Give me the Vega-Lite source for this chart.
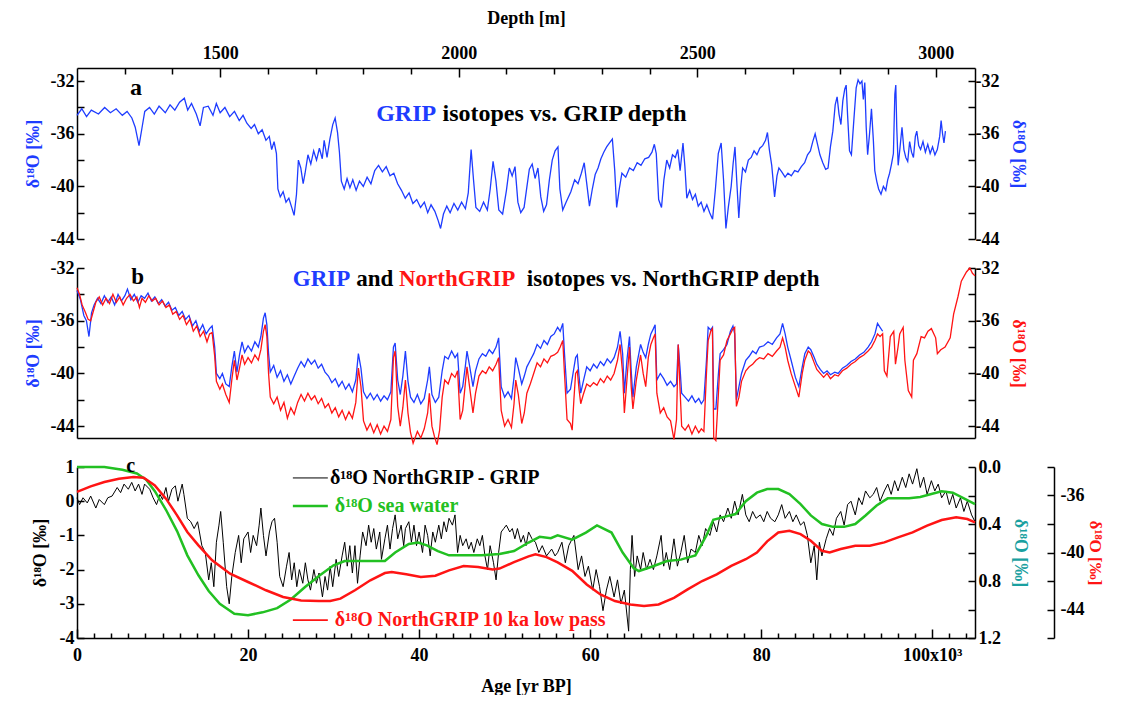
{
"$schema": "https://vega.github.io/schema/vega-lite/v6.json",
"padding": {"left": 24, "top": 9, "right": 0, "bottom": 0},
"background": "white",
"spacing": 29,
"bounds": "flush",
"config": {
 "font": "Liberation Serif",
 "view": {"stroke": null},
 "axis": {"labelFont": "Liberation Serif", "labelFontWeight": "bold", "labelFontSize": 18, "titleFont": "Liberation Serif", "titleFontWeight": "bold", "titleFontSize": 18, "labelColor": "black", "titleColor": "black", "domainColor": "black", "tickColor": "black", "grid": false, "domainWidth": 1.5, "tickWidth": 1.5, "labelOverlap": false, "labelFlush": false, "labelBound": false},
 "text": {"font": "Liberation Serif", "fontWeight": "bold"}
},
"datasets": {
 "a": [
  {"x":1200,"y":-34.6},{"x":1210,"y":-34.1},{"x":1220,"y":-34.7},{"x":1230,"y":-34.2},{"x":1245,"y":-34.5},{"x":1258,"y":-34.0},{"x":1270,"y":-34.4},{"x":1282,"y":-34.1},{"x":1295,"y":-34.6},{"x":1305,"y":-34.3},{"x":1315,"y":-34.8},{"x":1322,"y":-35.5},{"x":1330,"y":-36.9},{"x":1336,"y":-35.6},{"x":1342,"y":-34.3},{"x":1352,"y":-34.0},{"x":1362,"y":-34.5},{"x":1372,"y":-33.9},{"x":1385,"y":-34.4},{"x":1395,"y":-33.8},{"x":1405,"y":-34.2},{"x":1415,"y":-33.6},{"x":1425,"y":-33.3},{"x":1432,"y":-34.2},{"x":1440,"y":-33.7},{"x":1450,"y":-34.5},{"x":1458,"y":-35.4},{"x":1465,"y":-34.0},{"x":1475,"y":-33.9},{"x":1485,"y":-34.6},{"x":1492,"y":-33.7},{"x":1500,"y":-34.4},{"x":1510,"y":-34.0},{"x":1520,"y":-34.7},{"x":1530,"y":-34.3},{"x":1540,"y":-35.0},{"x":1548,"y":-34.6},{"x":1556,"y":-35.2},{"x":1565,"y":-35.6},{"x":1572,"y":-35.3},{"x":1580,"y":-36.0},{"x":1588,"y":-35.7},{"x":1596,"y":-36.5},{"x":1603,"y":-36.2},{"x":1608,"y":-37.2},{"x":1613,"y":-36.6},{"x":1618,"y":-37.5},{"x":1621,"y":-40.2},{"x":1626,"y":-40.8},{"x":1632,"y":-40.4},{"x":1638,"y":-41.2},{"x":1644,"y":-40.9},{"x":1650,"y":-41.6},{"x":1655,"y":-42.2},{"x":1660,"y":-40.6},{"x":1664,"y":-38.0},{"x":1669,"y":-38.6},{"x":1674,"y":-39.8},{"x":1678,"y":-39.0},{"x":1684,"y":-37.6},{"x":1690,"y":-38.3},{"x":1696,"y":-37.3},{"x":1702,"y":-38.0},{"x":1708,"y":-37.1},{"x":1714,"y":-37.9},{"x":1718,"y":-36.5},{"x":1724,"y":-37.8},{"x":1730,"y":-36.4},{"x":1736,"y":-35.3},{"x":1741,"y":-34.8},{"x":1746,"y":-35.9},{"x":1750,"y":-37.4},{"x":1754,"y":-39.6},{"x":1760,"y":-40.2},{"x":1766,"y":-39.4},{"x":1772,"y":-40.1},{"x":1778,"y":-39.5},{"x":1785,"y":-40.3},{"x":1792,"y":-39.6},{"x":1800,"y":-40.0},{"x":1808,"y":-39.3},{"x":1816,"y":-39.8},{"x":1824,"y":-38.8},{"x":1832,"y":-38.4},{"x":1840,"y":-38.9},{"x":1848,"y":-38.5},{"x":1856,"y":-39.2},{"x":1864,"y":-39.0},{"x":1872,"y":-39.8},{"x":1880,"y":-40.3},{"x":1888,"y":-40.9},{"x":1896,"y":-40.5},{"x":1904,"y":-41.3},{"x":1912,"y":-41.0},{"x":1920,"y":-41.6},{"x":1928,"y":-41.2},{"x":1935,"y":-42.0},{"x":1942,"y":-41.4},{"x":1950,"y":-41.9},{"x":1957,"y":-42.6},{"x":1962,"y":-43.2},{"x":1968,"y":-42.1},{"x":1975,"y":-41.5},{"x":1982,"y":-42.0},{"x":1990,"y":-41.3},{"x":1998,"y":-41.8},{"x":2006,"y":-41.2},{"x":2014,"y":-41.7},{"x":2020,"y":-40.5},{"x":2026,"y":-37.2},{"x":2031,"y":-39.5},{"x":2036,"y":-41.6},{"x":2044,"y":-41.9},{"x":2052,"y":-41.2},{"x":2060,"y":-41.8},{"x":2066,"y":-40.2},{"x":2072,"y":-38.1},{"x":2078,"y":-39.6},{"x":2084,"y":-41.8},{"x":2092,"y":-42.1},{"x":2100,"y":-40.3},{"x":2106,"y":-38.6},{"x":2112,"y":-39.2},{"x":2118,"y":-38.5},{"x":2124,"y":-41.2},{"x":2130,"y":-42.0},{"x":2137,"y":-41.6},{"x":2143,"y":-40.0},{"x":2148,"y":-38.7},{"x":2154,"y":-38.3},{"x":2160,"y":-39.4},{"x":2166,"y":-38.6},{"x":2172,"y":-40.8},{"x":2178,"y":-41.9},{"x":2184,"y":-41.4},{"x":2190,"y":-39.5},{"x":2196,"y":-38.0},{"x":2202,"y":-37.3},{"x":2208,"y":-37.0},{"x":2212,"y":-40.2},{"x":2218,"y":-41.8},{"x":2225,"y":-41.2},{"x":2235,"y":-40.4},{"x":2243,"y":-39.5},{"x":2250,"y":-39.8},{"x":2257,"y":-39.0},{"x":2263,"y":-38.2},{"x":2268,"y":-39.7},{"x":2274,"y":-41.5},{"x":2280,"y":-40.2},{"x":2286,"y":-39.1},{"x":2292,"y":-38.6},{"x":2298,"y":-37.9},{"x":2304,"y":-37.4},{"x":2310,"y":-37.0},{"x":2316,"y":-36.7},{"x":2322,"y":-36.4},{"x":2327,"y":-38.8},{"x":2331,"y":-41.6},{"x":2336,"y":-40.3},{"x":2342,"y":-39.0},{"x":2350,"y":-39.3},{"x":2358,"y":-38.6},{"x":2366,"y":-38.8},{"x":2374,"y":-38.2},{"x":2382,"y":-38.4},{"x":2390,"y":-37.9},{"x":2398,"y":-37.8},{"x":2405,"y":-37.4},{"x":2410,"y":-36.8},{"x":2414,"y":-37.5},{"x":2419,"y":-41.0},{"x":2425,"y":-41.6},{"x":2430,"y":-39.5},{"x":2436,"y":-38.0},{"x":2442,"y":-38.6},{"x":2448,"y":-37.6},{"x":2454,"y":-37.8},{"x":2459,"y":-37.2},{"x":2464,"y":-38.8},{"x":2470,"y":-36.7},{"x":2474,"y":-38.5},{"x":2478,"y":-40.9},{"x":2484,"y":-40.3},{"x":2490,"y":-41.0},{"x":2496,"y":-40.6},{"x":2502,"y":-41.5},{"x":2508,"y":-41.2},{"x":2514,"y":-41.9},{"x":2520,"y":-41.4},{"x":2526,"y":-42.0},{"x":2532,"y":-42.5},{"x":2538,"y":-40.2},{"x":2544,"y":-37.5},{"x":2550,"y":-36.7},{"x":2555,"y":-39.5},{"x":2560,"y":-43.2},{"x":2565,"y":-41.6},{"x":2571,"y":-40.0},{"x":2575,"y":-38.3},{"x":2579,"y":-37.0},{"x":2583,"y":-39.8},{"x":2587,"y":-42.4},{"x":2591,"y":-40.1},{"x":2595,"y":-38.6},{"x":2601,"y":-38.9},{"x":2607,"y":-38.0},{"x":2613,"y":-37.8},{"x":2619,"y":-37.3},{"x":2625,"y":-37.6},{"x":2631,"y":-37.1},{"x":2637,"y":-36.9},{"x":2643,"y":-36.5},{"x":2647,"y":-35.9},{"x":2651,"y":-37.2},{"x":2656,"y":-38.4},{"x":2662,"y":-40.8},{"x":2667,"y":-39.2},{"x":2671,"y":-38.6},{"x":2677,"y":-38.9},{"x":2684,"y":-39.3},{"x":2690,"y":-39.0},{"x":2697,"y":-39.2},{"x":2704,"y":-38.8},{"x":2711,"y":-38.9},{"x":2718,"y":-38.5},{"x":2725,"y":-38.2},{"x":2731,"y":-37.6},{"x":2737,"y":-37.3},{"x":2742,"y":-36.6},{"x":2747,"y":-36.0},{"x":2752,"y":-36.8},{"x":2757,"y":-37.6},{"x":2763,"y":-38.2},{"x":2769,"y":-38.7},{"x":2774,"y":-38.6},{"x":2779,"y":-37.0},{"x":2784,"y":-35.8},{"x":2789,"y":-33.8},{"x":2793,"y":-33.2},{"x":2797,"y":-34.5},{"x":2801,"y":-35.3},{"x":2805,"y":-33.5},{"x":2809,"y":-32.6},{"x":2812,"y":-32.3},{"x":2815,"y":-34.6},{"x":2819,"y":-37.3},{"x":2823,"y":-37.6},{"x":2828,"y":-35.0},{"x":2833,"y":-32.5},{"x":2837,"y":-31.9},{"x":2841,"y":-32.2},{"x":2845,"y":-32.0},{"x":2848,"y":-33.4},{"x":2851,"y":-32.1},{"x":2854,"y":-35.5},{"x":2857,"y":-37.6},{"x":2861,"y":-36.0},{"x":2865,"y":-34.1},{"x":2869,"y":-36.5},{"x":2872,"y":-38.8},{"x":2876,"y":-39.6},{"x":2880,"y":-40.2},{"x":2885,"y":-40.6},{"x":2890,"y":-40.0},{"x":2895,"y":-40.3},{"x":2899,"y":-39.5},{"x":2903,"y":-39.0},{"x":2907,"y":-38.3},{"x":2911,"y":-37.5},{"x":2914,"y":-33.0},{"x":2916,"y":-32.3},{"x":2918,"y":-35.5},{"x":2921,"y":-38.4},{"x":2925,"y":-37.0},{"x":2929,"y":-35.5},{"x":2933,"y":-37.2},{"x":2937,"y":-37.8},{"x":2941,"y":-38.1},{"x":2945,"y":-36.6},{"x":2949,"y":-37.4},{"x":2953,"y":-37.8},{"x":2957,"y":-36.2},{"x":2960,"y":-35.8},{"x":2964,"y":-36.9},{"x":2968,"y":-37.2},{"x":2973,"y":-36.6},{"x":2978,"y":-37.4},{"x":2983,"y":-36.8},{"x":2988,"y":-37.5},{"x":2993,"y":-37.0},{"x":2998,"y":-37.6},{"x":3003,"y":-37.2},{"x":3008,"y":-36.2},{"x":3011,"y":-35.0},{"x":3014,"y":-36.0},{"x":3017,"y":-36.7},{"x":3020,"y":-35.8}
 ],
 "bg": [
  {"x":0.0,"y":-33.7},{"x":0.4,"y":-34.4},{"x":0.8,"y":-35.6},{"x":1.1,"y":-36.0},{"x":1.4,"y":-37.2},{"x":1.7,"y":-35.4},{"x":2.0,"y":-34.8},{"x":2.4,"y":-34.3},{"x":2.8,"y":-34.7},{"x":3.2,"y":-34.1},{"x":3.6,"y":-34.6},{"x":4.0,"y":-34.2},{"x":4.4,"y":-34.8},{"x":4.8,"y":-34.0},{"x":5.2,"y":-34.5},{"x":5.6,"y":-34.1},{"x":5.9,"y":-33.6},{"x":6.3,"y":-34.4},{"x":6.7,"y":-34.0},{"x":7.1,"y":-34.6},{"x":7.5,"y":-34.1},{"x":7.9,"y":-34.3},{"x":8.3,"y":-33.9},{"x":8.7,"y":-34.5},{"x":9.1,"y":-34.2},{"x":9.5,"y":-34.7},{"x":9.9,"y":-34.4},{"x":10.3,"y":-34.9},{"x":10.7,"y":-34.6},{"x":11.1,"y":-35.2},{"x":11.5,"y":-35.0},{"x":11.9,"y":-35.6},{"x":12.3,"y":-35.3},{"x":12.7,"y":-35.9},{"x":13.1,"y":-35.6},{"x":13.5,"y":-36.4},{"x":13.9,"y":-36.0},{"x":14.3,"y":-36.8},{"x":14.7,"y":-36.3},{"x":15.1,"y":-37.0},{"x":15.5,"y":-36.6},{"x":15.8,"y":-36.4},{"x":16.1,"y":-38.0},{"x":16.3,"y":-40.0},{"x":16.7,"y":-40.4},{"x":17.0,"y":-40.0},{"x":17.4,"y":-40.8},{"x":17.8,"y":-41.0},{"x":18.1,"y":-39.5},{"x":18.4,"y":-38.3},{"x":18.7,"y":-39.9},{"x":19.0,"y":-38.6},{"x":19.3,"y":-37.6},{"x":19.6,"y":-38.4},{"x":20.0,"y":-37.9},{"x":20.4,"y":-38.3},{"x":20.8,"y":-37.6},{"x":21.2,"y":-38.0},{"x":21.5,"y":-37.2},{"x":21.8,"y":-35.8},{"x":22.0,"y":-35.4},{"x":22.2,"y":-36.3},{"x":22.4,"y":-38.5},{"x":22.6,"y":-39.9},{"x":23.0,"y":-39.4},{"x":23.4,"y":-40.3},{"x":23.8,"y":-39.8},{"x":24.2,"y":-40.6},{"x":24.6,"y":-40.1},{"x":25.0,"y":-40.8},{"x":25.4,"y":-40.2},{"x":25.8,"y":-39.6},{"x":26.2,"y":-39.1},{"x":26.6,"y":-39.5},{"x":27.0,"y":-38.9},{"x":27.4,"y":-39.3},{"x":27.8,"y":-39.0},{"x":28.2,"y":-39.6},{"x":28.6,"y":-39.3},{"x":29.0,"y":-39.9},{"x":29.4,"y":-40.2},{"x":29.8,"y":-40.7},{"x":30.2,"y":-40.4},{"x":30.6,"y":-41.0},{"x":31.0,"y":-40.6},{"x":31.4,"y":-41.2},{"x":31.8,"y":-40.8},{"x":32.2,"y":-41.4},{"x":32.6,"y":-40.5},{"x":32.9,"y":-38.5},{"x":33.2,"y":-39.6},{"x":33.5,"y":-41.4},{"x":33.9,"y":-41.9},{"x":34.3,"y":-41.5},{"x":34.7,"y":-42.0},{"x":35.1,"y":-41.6},{"x":35.5,"y":-42.1},{"x":35.9,"y":-41.7},{"x":36.3,"y":-42.0},{"x":36.7,"y":-41.4},{"x":37.0,"y":-38.0},{"x":37.2,"y":-37.7},{"x":37.5,"y":-40.5},{"x":37.8,"y":-41.6},{"x":38.1,"y":-40.2},{"x":38.4,"y":-38.3},{"x":38.7,"y":-40.6},{"x":39.0,"y":-41.8},{"x":39.4,"y":-42.2},{"x":39.8,"y":-41.6},{"x":40.2,"y":-42.3},{"x":40.6,"y":-41.9},{"x":41.0,"y":-40.5},{"x":41.2,"y":-39.5},{"x":41.5,"y":-41.6},{"x":41.9,"y":-42.2},{"x":42.3,"y":-41.8},{"x":42.7,"y":-39.8},{"x":43.0,"y":-38.7},{"x":43.4,"y":-38.9},{"x":43.8,"y":-38.3},{"x":44.2,"y":-38.8},{"x":44.5,"y":-38.5},{"x":44.8,"y":-41.5},{"x":45.1,"y":-41.0},{"x":45.4,"y":-39.5},{"x":45.6,"y":-38.3},{"x":45.9,"y":-39.4},{"x":46.3,"y":-41.0},{"x":46.6,"y":-39.8},{"x":47.0,"y":-38.9},{"x":47.4,"y":-38.5},{"x":47.8,"y":-38.7},{"x":48.2,"y":-38.2},{"x":48.6,"y":-38.5},{"x":49.0,"y":-38.0},{"x":49.3,"y":-37.3},{"x":49.6,"y":-41.0},{"x":50.0,"y":-41.8},{"x":50.4,"y":-41.4},{"x":50.8,"y":-41.9},{"x":51.1,"y":-40.3},{"x":51.3,"y":-38.8},{"x":51.6,"y":-39.6},{"x":52.0,"y":-40.8},{"x":52.3,"y":-40.2},{"x":52.6,"y":-39.5},{"x":53.0,"y":-39.0},{"x":53.4,"y":-38.5},{"x":53.8,"y":-37.8},{"x":54.2,"y":-38.1},{"x":54.6,"y":-37.5},{"x":55.0,"y":-37.8},{"x":55.4,"y":-37.2},{"x":55.8,"y":-37.0},{"x":56.2,"y":-36.5},{"x":56.5,"y":-36.8},{"x":56.8,"y":-36.2},{"x":57.0,"y":-38.5},{"x":57.3,"y":-41.5},{"x":57.7,"y":-41.2},{"x":58.0,"y":-40.0},{"x":58.3,"y":-38.8},{"x":58.5,"y":-38.6},{"x":58.7,"y":-40.2},{"x":58.9,"y":-41.5},{"x":59.2,"y":-40.6},{"x":59.6,"y":-39.5},{"x":60.0,"y":-39.8},{"x":60.4,"y":-39.3},{"x":60.8,"y":-39.6},{"x":61.2,"y":-39.1},{"x":61.6,"y":-39.4},{"x":62.0,"y":-38.9},{"x":62.4,"y":-39.2},{"x":62.8,"y":-38.8},{"x":63.2,"y":-38.0},{"x":63.5,"y":-36.8},{"x":63.8,"y":-38.5},{"x":64.0,"y":-41.5},{"x":64.3,"y":-39.0},{"x":64.6,"y":-37.2},{"x":64.8,"y":-39.8},{"x":65.0,"y":-41.8},{"x":65.4,"y":-39.5},{"x":65.9,"y":-37.8},{"x":66.2,"y":-38.4},{"x":66.5,"y":-38.8},{"x":66.8,"y":-37.8},{"x":67.1,"y":-37.0},{"x":67.4,"y":-36.6},{"x":67.6,"y":-36.3},{"x":67.8,"y":-40.5},{"x":68.2,"y":-40.0},{"x":68.6,"y":-40.4},{"x":69.0,"y":-40.9},{"x":69.4,"y":-40.6},{"x":69.8,"y":-41.0},{"x":70.1,"y":-40.8},{"x":70.3,"y":-37.8},{"x":70.5,"y":-39.5},{"x":70.7,"y":-41.5},{"x":71.1,"y":-41.8},{"x":71.5,"y":-42.1},{"x":71.9,"y":-41.7},{"x":72.3,"y":-42.2},{"x":72.7,"y":-41.9},{"x":73.0,"y":-42.3},{"x":73.3,"y":-42.0},{"x":73.6,"y":-39.0},{"x":73.8,"y":-36.5},{"x":74.1,"y":-36.7},{"x":74.3,"y":-36.5},{"x":74.45,"y":-42.7},{"x":74.7,"y":-42.7},{"x":75.0,"y":-40.0},{"x":75.2,"y":-38.5},{"x":75.6,"y":-38.2},{"x":76.0,"y":-37.8},{"x":76.4,"y":-36.8},{"x":76.7,"y":-36.4},{"x":76.9,"y":-37.0},{"x":77.1,"y":-42.0},{"x":77.4,"y":-41.0},{"x":77.7,"y":-40.0},{"x":78.2,"y":-39.0},{"x":78.6,"y":-38.7},{"x":79.0,"y":-38.3},{"x":79.4,"y":-38.5},{"x":79.8,"y":-38.0},{"x":80.3,"y":-37.9},{"x":80.8,"y":-37.6},{"x":81.3,"y":-37.8},{"x":81.8,"y":-37.3},{"x":82.2,"y":-37.0},{"x":82.5,"y":-36.2},{"x":82.8,"y":-37.0},{"x":83.1,"y":-38.0},{"x":83.5,"y":-39.0},{"x":84.0,"y":-40.3},{"x":84.4,"y":-41.0},{"x":84.8,"y":-39.5},{"x":85.1,"y":-38.5},{"x":85.5,"y":-38.0},{"x":85.8,"y":-38.2},{"x":86.2,"y":-38.8},{"x":86.5,"y":-39.3},{"x":86.9,"y":-39.7},{"x":87.3,"y":-40.0},{"x":87.7,"y":-39.8},{"x":88.1,"y":-40.1},{"x":88.6,"y":-39.9},{"x":89.0,"y":-40.0},{"x":89.5,"y":-39.6},{"x":90.0,"y":-39.4},{"x":90.5,"y":-39.1},{"x":91.0,"y":-38.9},{"x":91.5,"y":-38.6},{"x":92.0,"y":-38.4},{"x":92.5,"y":-38.0},{"x":92.9,"y":-37.6},{"x":93.3,"y":-37.0},{"x":93.6,"y":-36.2},{"x":93.9,"y":-36.5},{"x":94.2,"y":-36.8}
 ],
 "bn": [
  {"x":0.0,"y":-33.5},{"x":0.3,"y":-34.0},{"x":0.6,"y":-34.8},{"x":1.0,"y":-35.4},{"x":1.3,"y":-35.9},{"x":1.6,"y":-36.0},{"x":1.9,"y":-35.3},{"x":2.2,"y":-34.6},{"x":2.6,"y":-34.2},{"x":3.0,"y":-34.8},{"x":3.4,"y":-34.3},{"x":3.8,"y":-34.7},{"x":4.2,"y":-34.0},{"x":4.6,"y":-34.6},{"x":5.0,"y":-34.2},{"x":5.4,"y":-34.8},{"x":5.8,"y":-34.3},{"x":6.2,"y":-34.0},{"x":6.6,"y":-34.5},{"x":7.0,"y":-34.2},{"x":7.3,"y":-35.0},{"x":7.6,"y":-34.3},{"x":8.0,"y":-34.6},{"x":8.4,"y":-34.1},{"x":8.8,"y":-34.5},{"x":9.2,"y":-34.3},{"x":9.6,"y":-34.8},{"x":10.0,"y":-34.5},{"x":10.4,"y":-35.0},{"x":10.8,"y":-34.8},{"x":11.2,"y":-35.5},{"x":11.6,"y":-35.3},{"x":12.0,"y":-35.9},{"x":12.4,"y":-35.6},{"x":12.8,"y":-36.3},{"x":13.2,"y":-35.9},{"x":13.6,"y":-36.8},{"x":14.0,"y":-36.4},{"x":14.4,"y":-37.2},{"x":14.8,"y":-36.8},{"x":15.2,"y":-37.6},{"x":15.5,"y":-37.0},{"x":15.8,"y":-36.9},{"x":16.1,"y":-38.7},{"x":16.3,"y":-40.6},{"x":16.7,"y":-41.2},{"x":17.0,"y":-40.8},{"x":17.4,"y":-41.6},{"x":17.8,"y":-42.2},{"x":18.1,"y":-40.5},{"x":18.4,"y":-39.0},{"x":18.7,"y":-40.5},{"x":19.0,"y":-39.6},{"x":19.3,"y":-38.6},{"x":19.6,"y":-39.3},{"x":20.0,"y":-38.8},{"x":20.4,"y":-39.2},{"x":20.8,"y":-38.6},{"x":21.2,"y":-39.0},{"x":21.5,"y":-38.2},{"x":21.8,"y":-36.8},{"x":22.0,"y":-36.3},{"x":22.2,"y":-37.2},{"x":22.4,"y":-40.0},{"x":22.6,"y":-41.8},{"x":23.0,"y":-42.3},{"x":23.4,"y":-41.8},{"x":23.8,"y":-42.8},{"x":24.2,"y":-42.2},{"x":24.6,"y":-43.4},{"x":25.0,"y":-42.6},{"x":25.4,"y":-43.1},{"x":25.8,"y":-42.2},{"x":26.2,"y":-41.6},{"x":26.6,"y":-42.1},{"x":27.0,"y":-41.5},{"x":27.4,"y":-42.0},{"x":27.8,"y":-41.7},{"x":28.2,"y":-42.3},{"x":28.6,"y":-41.9},{"x":29.0,"y":-42.6},{"x":29.4,"y":-42.3},{"x":29.8,"y":-43.0},{"x":30.2,"y":-42.6},{"x":30.6,"y":-43.3},{"x":31.0,"y":-42.8},{"x":31.4,"y":-43.5},{"x":31.8,"y":-42.9},{"x":32.2,"y":-43.4},{"x":32.6,"y":-42.2},{"x":32.9,"y":-39.6},{"x":33.2,"y":-41.0},{"x":33.5,"y":-43.6},{"x":33.9,"y":-44.3},{"x":34.3,"y":-43.8},{"x":34.7,"y":-44.5},{"x":35.1,"y":-43.9},{"x":35.5,"y":-44.6},{"x":35.9,"y":-44.0},{"x":36.3,"y":-44.4},{"x":36.7,"y":-43.5},{"x":37.0,"y":-38.8},{"x":37.2,"y":-38.3},{"x":37.5,"y":-42.5},{"x":37.8,"y":-44.0},{"x":38.1,"y":-42.6},{"x":38.4,"y":-40.5},{"x":38.7,"y":-43.0},{"x":39.0,"y":-44.5},{"x":39.3,"y":-45.3},{"x":39.8,"y":-44.4},{"x":40.2,"y":-44.9},{"x":40.6,"y":-44.2},{"x":41.0,"y":-43.0},{"x":41.2,"y":-41.5},{"x":41.5,"y":-44.0},{"x":41.8,"y":-44.8},{"x":42.1,"y":-45.4},{"x":42.4,"y":-44.3},{"x":42.7,"y":-41.8},{"x":43.0,"y":-40.5},{"x":43.4,"y":-40.8},{"x":43.8,"y":-40.0},{"x":44.2,"y":-40.3},{"x":44.5,"y":-39.8},{"x":44.8,"y":-43.5},{"x":45.1,"y":-42.8},{"x":45.4,"y":-40.8},{"x":45.6,"y":-39.5},{"x":45.9,"y":-41.0},{"x":46.3,"y":-43.0},{"x":46.6,"y":-41.5},{"x":47.0,"y":-40.2},{"x":47.4,"y":-39.8},{"x":47.8,"y":-40.0},{"x":48.2,"y":-39.5},{"x":48.6,"y":-39.8},{"x":49.0,"y":-39.3},{"x":49.3,"y":-38.8},{"x":49.6,"y":-42.8},{"x":50.0,"y":-44.0},{"x":50.4,"y":-43.5},{"x":50.8,"y":-44.1},{"x":51.1,"y":-42.3},{"x":51.3,"y":-40.5},{"x":51.6,"y":-41.6},{"x":52.0,"y":-43.8},{"x":52.3,"y":-43.0},{"x":52.6,"y":-41.5},{"x":53.0,"y":-40.8},{"x":53.4,"y":-40.0},{"x":53.8,"y":-39.2},{"x":54.2,"y":-39.5},{"x":54.6,"y":-38.9},{"x":55.0,"y":-39.2},{"x":55.4,"y":-38.7},{"x":55.8,"y":-38.6},{"x":56.2,"y":-38.4},{"x":56.5,"y":-38.0},{"x":56.8,"y":-37.5},{"x":57.0,"y":-40.0},{"x":57.3,"y":-43.5},{"x":57.7,"y":-43.8},{"x":57.9,"y":-44.3},{"x":58.1,"y":-42.0},{"x":58.3,"y":-40.0},{"x":58.5,"y":-39.8},{"x":58.7,"y":-41.2},{"x":58.9,"y":-42.3},{"x":59.2,"y":-41.6},{"x":59.6,"y":-40.8},{"x":60.0,"y":-41.0},{"x":60.4,"y":-40.7},{"x":60.8,"y":-40.9},{"x":61.2,"y":-40.4},{"x":61.6,"y":-40.7},{"x":62.0,"y":-40.2},{"x":62.4,"y":-40.5},{"x":62.8,"y":-40.0},{"x":63.2,"y":-39.0},{"x":63.5,"y":-37.8},{"x":63.8,"y":-40.0},{"x":64.0,"y":-43.0},{"x":64.3,"y":-40.5},{"x":64.6,"y":-38.0},{"x":64.8,"y":-41.0},{"x":65.0,"y":-42.7},{"x":65.4,"y":-40.5},{"x":65.9,"y":-38.6},{"x":66.2,"y":-40.0},{"x":66.5,"y":-41.0},{"x":66.8,"y":-38.8},{"x":67.1,"y":-37.8},{"x":67.4,"y":-37.3},{"x":67.6,"y":-37.0},{"x":67.8,"y":-41.5},{"x":68.2,"y":-43.0},{"x":68.6,"y":-42.6},{"x":69.0,"y":-43.3},{"x":69.4,"y":-43.6},{"x":69.8,"y":-45.0},{"x":70.1,"y":-43.5},{"x":70.3,"y":-37.8},{"x":70.5,"y":-41.0},{"x":70.7,"y":-44.0},{"x":71.1,"y":-44.3},{"x":71.5,"y":-43.9},{"x":71.9,"y":-44.6},{"x":72.3,"y":-44.0},{"x":72.7,"y":-44.5},{"x":73.0,"y":-44.2},{"x":73.3,"y":-44.4},{"x":73.6,"y":-40.0},{"x":73.8,"y":-37.5},{"x":74.1,"y":-36.8},{"x":74.3,"y":-36.6},{"x":74.45,"y":-44.9},{"x":74.7,"y":-45.1},{"x":75.0,"y":-41.5},{"x":75.2,"y":-39.0},{"x":75.6,"y":-38.6},{"x":76.0,"y":-37.5},{"x":76.4,"y":-37.0},{"x":76.7,"y":-36.6},{"x":76.9,"y":-36.5},{"x":77.1,"y":-42.5},{"x":77.4,"y":-41.8},{"x":77.7,"y":-40.6},{"x":78.2,"y":-39.8},{"x":78.6,"y":-39.5},{"x":79.0,"y":-39.3},{"x":79.4,"y":-39.0},{"x":79.8,"y":-38.8},{"x":80.3,"y":-38.9},{"x":80.8,"y":-38.5},{"x":81.3,"y":-38.7},{"x":81.8,"y":-38.3},{"x":82.2,"y":-38.0},{"x":82.5,"y":-37.3},{"x":82.8,"y":-38.0},{"x":83.1,"y":-39.0},{"x":83.5,"y":-40.0},{"x":84.0,"y":-41.0},{"x":84.4,"y":-41.8},{"x":84.8,"y":-40.0},{"x":85.1,"y":-39.0},{"x":85.5,"y":-38.3},{"x":85.8,"y":-38.5},{"x":86.2,"y":-39.2},{"x":86.5,"y":-39.7},{"x":86.9,"y":-40.0},{"x":87.3,"y":-40.3},{"x":87.7,"y":-40.0},{"x":88.1,"y":-40.4},{"x":88.6,"y":-40.1},{"x":89.0,"y":-40.2},{"x":89.5,"y":-39.8},{"x":90.0,"y":-39.6},{"x":90.5,"y":-39.3},{"x":91.0,"y":-39.1},{"x":91.5,"y":-38.8},{"x":92.0,"y":-38.6},{"x":92.5,"y":-38.3},{"x":92.9,"y":-38.0},{"x":93.3,"y":-37.5},{"x":93.6,"y":-37.0},{"x":93.9,"y":-37.2},{"x":94.2,"y":-37.0},{"x":94.4,"y":-39.8},{"x":94.7,"y":-40.2},{"x":95.1,"y":-37.2},{"x":95.5,"y":-36.8},{"x":95.7,"y":-39.3},{"x":96.0,"y":-38.0},{"x":96.2,"y":-37.0},{"x":96.6,"y":-36.5},{"x":96.8,"y":-39.0},{"x":97.2,"y":-41.3},{"x":97.6,"y":-41.8},{"x":97.8,"y":-39.0},{"x":98.2,"y":-38.5},{"x":98.7,"y":-37.2},{"x":99.1,"y":-37.3},{"x":99.5,"y":-36.8},{"x":99.9,"y":-36.6},{"x":100.4,"y":-37.3},{"x":100.6,"y":-38.5},{"x":101.0,"y":-38.2},{"x":101.5,"y":-38.0},{"x":102.1,"y":-37.3},{"x":102.5,"y":-35.5},{"x":103.0,"y":-34.2},{"x":103.4,"y":-33.0},{"x":104.0,"y":-32.3},{"x":104.4,"y":-32.0},{"x":104.7,"y":-32.4},{"x":105.0,"y":-32.6}
 ],
 "cd": [
  {"x":0.0,"y":0.1},{"x":0.3,"y":-0.1},{"x":0.7,"y":0.1},{"x":1.2,"y":-0.05},{"x":1.6,"y":0.15},{"x":2.2,"y":-0.2},{"x":2.6,"y":0.05},{"x":3.2,"y":-0.1},{"x":3.6,"y":0.1},{"x":4.1,"y":0.15},{"x":4.7,"y":0.4},{"x":5.1,"y":0.25},{"x":5.5,"y":0.5},{"x":6.0,"y":0.35},{"x":6.4,"y":0.55},{"x":6.8,"y":0.3},{"x":7.2,"y":0.5},{"x":7.6,"y":0.2},{"x":7.9,"y":0.5},{"x":8.5,"y":0.35},{"x":8.9,"y":0.1},{"x":9.3,"y":-0.1},{"x":9.7,"y":0.2},{"x":10.0,"y":0.05},{"x":10.4,"y":0.4},{"x":10.7,"y":0.0},{"x":11.1,"y":0.35},{"x":11.5,"y":0.45},{"x":11.8,"y":0.0},{"x":12.3,"y":0.5},{"x":12.5,"y":0.2},{"x":12.9,"y":-0.5},{"x":13.3,"y":-0.6},{"x":13.7,"y":-0.8},{"x":14.1,"y":-0.6},{"x":14.6,"y":-1.3},{"x":15.0,"y":-1.5},{"x":15.4,"y":-2.3},{"x":15.7,"y":-1.8},{"x":16.0,"y":-2.5},{"x":16.3,"y":-1.2},{"x":16.6,"y":-0.7},{"x":16.8,"y":-0.3},{"x":17.1,"y":-1.2},{"x":17.5,"y":-2.5},{"x":17.8,"y":-3.0},{"x":18.1,"y":-2.2},{"x":18.5,"y":-1.5},{"x":18.9,"y":-1.0},{"x":19.2,"y":-1.8},{"x":19.5,"y":-1.1},{"x":20.0,"y":-0.9},{"x":20.3,"y":-1.5},{"x":20.6,"y":-1.0},{"x":21.0,"y":-1.3},{"x":21.3,"y":-0.7},{"x":21.5,"y":-0.2},{"x":21.8,"y":-1.0},{"x":22.1,"y":-1.6},{"x":22.5,"y":-0.9},{"x":22.8,"y":-0.6},{"x":23.1,"y":-0.5},{"x":23.4,"y":-1.2},{"x":23.7,"y":-2.2},{"x":24.1,"y":-2.5},{"x":24.5,"y":-1.9},{"x":24.8,"y":-1.5},{"x":25.1,"y":-2.3},{"x":25.4,"y":-1.8},{"x":25.7,"y":-2.5},{"x":26.0,"y":-2.0},{"x":26.4,"y":-2.4},{"x":26.7,"y":-1.8},{"x":27.0,"y":-2.3},{"x":27.3,"y":-2.6},{"x":27.7,"y":-2.0},{"x":28.0,"y":-2.4},{"x":28.3,"y":-2.1},{"x":28.7,"y":-2.8},{"x":29.0,"y":-2.2},{"x":29.3,"y":-2.6},{"x":29.6,"y":-1.9},{"x":29.9,"y":-2.5},{"x":30.3,"y":-1.7},{"x":30.6,"y":-2.2},{"x":31.0,"y":-1.6},{"x":31.3,"y":-1.2},{"x":31.6,"y":-1.9},{"x":31.9,"y":-1.3},{"x":32.2,"y":-2.1},{"x":32.5,"y":-1.3},{"x":32.8,"y":-2.4},{"x":33.1,"y":-1.6},{"x":33.4,"y":-0.9},{"x":33.8,"y":-1.3},{"x":34.1,"y":-0.7},{"x":34.4,"y":-1.2},{"x":34.7,"y":-0.8},{"x":35.0,"y":-1.4},{"x":35.4,"y":-0.9},{"x":35.6,"y":-1.7},{"x":36.0,"y":-1.1},{"x":36.3,"y":-0.7},{"x":36.6,"y":-1.4},{"x":36.9,"y":-0.8},{"x":37.2,"y":-0.4},{"x":37.5,"y":-1.1},{"x":37.9,"y":-0.7},{"x":38.2,"y":-1.3},{"x":38.4,"y":-0.8},{"x":38.8,"y":-0.6},{"x":39.1,"y":-1.2},{"x":39.4,"y":-0.7},{"x":39.7,"y":-1.3},{"x":40.0,"y":-0.9},{"x":40.4,"y":-1.5},{"x":40.7,"y":-0.7},{"x":41.0,"y":-1.0},{"x":41.3,"y":-1.6},{"x":41.6,"y":-0.9},{"x":41.9,"y":-1.2},{"x":42.3,"y":-0.7},{"x":42.6,"y":-1.1},{"x":42.9,"y":-0.6},{"x":43.2,"y":-0.9},{"x":43.5,"y":-0.5},{"x":43.9,"y":-0.7},{"x":44.2,"y":-0.4},{"x":44.5,"y":-1.5},{"x":44.8,"y":-1.0},{"x":45.1,"y":-1.3},{"x":45.5,"y":-1.1},{"x":45.8,"y":-1.4},{"x":46.1,"y":-1.2},{"x":46.4,"y":-1.5},{"x":46.8,"y":-1.1},{"x":47.1,"y":-1.3},{"x":47.4,"y":-1.0},{"x":47.7,"y":-1.6},{"x":48.0,"y":-2.0},{"x":48.3,"y":-1.3},{"x":48.7,"y":-1.8},{"x":49.0,"y":-2.3},{"x":49.3,"y":-1.5},{"x":49.6,"y":-0.9},{"x":49.9,"y":-0.8},{"x":50.2,"y":-0.7},{"x":50.6,"y":-0.9},{"x":50.9,"y":-0.8},{"x":51.2,"y":-1.1},{"x":51.5,"y":-0.8},{"x":51.9,"y":-1.2},{"x":52.2,"y":-1.0},{"x":52.5,"y":-1.3},{"x":52.8,"y":-0.9},{"x":53.2,"y":-1.1},{"x":53.6,"y":-1.2},{"x":54.0,"y":-1.5},{"x":54.4,"y":-1.3},{"x":54.9,"y":-1.6},{"x":55.5,"y":-1.4},{"x":55.9,"y":-1.6},{"x":56.2,"y":-1.5},{"x":56.7,"y":-1.2},{"x":57.1,"y":-1.8},{"x":57.5,"y":-1.3},{"x":58.1,"y":-1.0},{"x":58.6,"y":-2.0},{"x":59.0,"y":-1.6},{"x":59.4,"y":-2.2},{"x":59.8,"y":-1.9},{"x":60.3,"y":-2.6},{"x":60.7,"y":-2.0},{"x":61.1,"y":-2.5},{"x":61.5,"y":-3.2},{"x":61.9,"y":-2.6},{"x":62.3,"y":-2.2},{"x":62.8,"y":-2.8},{"x":63.2,"y":-2.3},{"x":63.6,"y":-3.0},{"x":64.0,"y":-2.6},{"x":64.5,"y":-3.8},{"x":64.7,"y":-2.0},{"x":64.9,"y":-1.0},{"x":65.2,"y":-2.2},{"x":65.5,"y":-1.6},{"x":65.9,"y":-2.0},{"x":66.2,"y":-1.5},{"x":66.6,"y":-2.0},{"x":67.0,"y":-1.7},{"x":67.4,"y":-2.0},{"x":67.8,"y":-1.6},{"x":68.3,"y":-1.0},{"x":68.6,"y":-1.9},{"x":68.9,"y":-1.5},{"x":69.3,"y":-2.0},{"x":69.8,"y":-1.1},{"x":70.2,"y":-1.9},{"x":70.6,"y":-1.5},{"x":71.0,"y":-1.0},{"x":71.4,"y":-1.8},{"x":71.8,"y":-1.4},{"x":72.3,"y":-1.5},{"x":72.7,"y":-1.0},{"x":73.1,"y":-1.3},{"x":73.5,"y":-0.8},{"x":74.0,"y":-1.0},{"x":74.4,"y":-0.6},{"x":74.8,"y":-0.9},{"x":75.2,"y":-0.4},{"x":75.6,"y":-0.6},{"x":76.1,"y":-0.2},{"x":76.5,"y":-0.5},{"x":76.9,"y":0.0},{"x":77.3,"y":-0.4},{"x":77.8,"y":0.2},{"x":78.2,"y":-0.4},{"x":78.6,"y":-0.6},{"x":79.0,"y":-0.3},{"x":79.4,"y":-0.5},{"x":79.9,"y":-0.4},{"x":80.3,"y":-0.6},{"x":80.7,"y":-0.3},{"x":81.1,"y":-0.5},{"x":81.6,"y":-0.6},{"x":82.0,"y":-0.4},{"x":82.4,"y":-0.1},{"x":82.8,"y":-0.5},{"x":83.3,"y":-0.3},{"x":83.7,"y":-0.6},{"x":84.1,"y":-0.4},{"x":84.6,"y":-0.7},{"x":85.0,"y":-0.6},{"x":85.4,"y":-1.0},{"x":85.8,"y":-1.8},{"x":86.2,"y":-1.3},{"x":86.5,"y":-2.3},{"x":86.8,"y":-1.2},{"x":87.1,"y":-1.6},{"x":87.6,"y":-1.1},{"x":88.0,"y":-0.8},{"x":88.4,"y":-1.0},{"x":88.8,"y":-0.5},{"x":89.3,"y":-0.3},{"x":89.7,"y":-0.7},{"x":90.1,"y":-0.1},{"x":90.5,"y":0.0},{"x":91.0,"y":-0.4},{"x":91.4,"y":0.1},{"x":91.8,"y":-0.1},{"x":92.2,"y":0.3},{"x":92.7,"y":0.1},{"x":93.1,"y":0.2},{"x":93.5,"y":0.4},{"x":93.9,"y":0.0},{"x":94.4,"y":0.3},{"x":94.8,"y":0.5},{"x":95.2,"y":0.2},{"x":95.6,"y":0.6},{"x":96.0,"y":0.3},{"x":96.5,"y":0.7},{"x":96.9,"y":0.4},{"x":97.3,"y":0.8},{"x":97.7,"y":0.5},{"x":98.2,"y":0.95},{"x":98.6,"y":0.4},{"x":99.0,"y":0.7},{"x":99.4,"y":0.2},{"x":99.9,"y":0.6},{"x":100.3,"y":0.3},{"x":100.7,"y":0.5},{"x":101.1,"y":0.1},{"x":101.6,"y":0.3},{"x":102.0,"y":-0.1},{"x":102.4,"y":0.2},{"x":102.8,"y":-0.2},{"x":103.3,"y":0.1},{"x":103.7,"y":-0.3},{"x":104.1,"y":0.0},{"x":104.6,"y":-0.4},{"x":105.0,"y":-0.6}
 ],
 "cs": [
  {"x":0,"y":0.0},{"x":3.2,"y":0.0},{"x":5.3,"y":0.02},{"x":7.0,"y":0.045},{"x":8.1,"y":0.09},{"x":9.1,"y":0.17},{"x":10.4,"y":0.30},{"x":11.7,"y":0.45},{"x":12.9,"y":0.62},{"x":14.2,"y":0.76},{"x":15.4,"y":0.87},{"x":16.7,"y":0.96},{"x":18.4,"y":1.03},{"x":20.0,"y":1.04},{"x":21.7,"y":1.02},{"x":23.4,"y":0.99},{"x":25.0,"y":0.93},{"x":26.7,"y":0.84},{"x":28.4,"y":0.76},{"x":30.0,"y":0.69},{"x":31.3,"y":0.66},{"x":32.5,"y":0.66},{"x":34.3,"y":0.66},{"x":36.0,"y":0.66},{"x":37.2,"y":0.60},{"x":38.8,"y":0.54},{"x":39.9,"y":0.53},{"x":40.9,"y":0.55},{"x":42.2,"y":0.59},{"x":43.5,"y":0.62},{"x":45.2,"y":0.62},{"x":47.3,"y":0.62},{"x":49.4,"y":0.61},{"x":51.1,"y":0.59},{"x":52.8,"y":0.53},{"x":54.1,"y":0.49},{"x":55.4,"y":0.50},{"x":56.2,"y":0.48},{"x":57.9,"y":0.51},{"x":59.5,"y":0.46},{"x":60.8,"y":0.41},{"x":62.5,"y":0.46},{"x":63.8,"y":0.60},{"x":65.1,"y":0.71},{"x":65.7,"y":0.73},{"x":67.2,"y":0.70},{"x":69.0,"y":0.66},{"x":70.6,"y":0.65},{"x":72.3,"y":0.62},{"x":73.6,"y":0.48},{"x":74.4,"y":0.37},{"x":75.7,"y":0.35},{"x":77.0,"y":0.33},{"x":78.2,"y":0.24},{"x":79.5,"y":0.18},{"x":80.7,"y":0.155},{"x":82.0,"y":0.155},{"x":83.3,"y":0.19},{"x":84.6,"y":0.26},{"x":85.8,"y":0.34},{"x":87.1,"y":0.40},{"x":88.4,"y":0.42},{"x":89.7,"y":0.42},{"x":91.0,"y":0.40},{"x":92.2,"y":0.34},{"x":93.5,"y":0.27},{"x":94.8,"y":0.22},{"x":96.0,"y":0.22},{"x":97.3,"y":0.22},{"x":98.6,"y":0.21},{"x":99.9,"y":0.19},{"x":101.1,"y":0.17},{"x":102.4,"y":0.18},{"x":103.7,"y":0.22},{"x":105.0,"y":0.26}
 ],
 "cr": [
  {"x":0,"y":-35.75},{"x":1.6,"y":-35.36},{"x":3.2,"y":-35.05},{"x":4.9,"y":-34.82},{"x":6.6,"y":-34.70},{"x":7.8,"y":-34.75},{"x":9.1,"y":-35.29},{"x":10.4,"y":-36.22},{"x":11.7,"y":-37.39},{"x":12.9,"y":-38.56},{"x":14.2,"y":-39.50},{"x":15.8,"y":-40.55},{"x":17.9,"y":-41.49},{"x":20.0,"y":-42.07},{"x":22.1,"y":-42.65},{"x":24.1,"y":-43.12},{"x":26.2,"y":-43.36},{"x":28.3,"y":-43.40},{"x":29.6,"y":-43.40},{"x":30.8,"y":-43.24},{"x":32.5,"y":-42.65},{"x":34.3,"y":-41.95},{"x":36.0,"y":-41.44},{"x":36.8,"y":-41.37},{"x":38.5,"y":-41.53},{"x":40.2,"y":-41.72},{"x":41.9,"y":-41.63},{"x":43.5,"y":-41.25},{"x":45.2,"y":-40.95},{"x":46.9,"y":-41.02},{"x":48.6,"y":-41.20},{"x":49.4,"y":-41.13},{"x":51.1,"y":-40.67},{"x":52.8,"y":-40.27},{"x":53.6,"y":-40.13},{"x":54.9,"y":-40.32},{"x":56.2,"y":-40.70},{"x":57.9,"y":-41.29},{"x":59.6,"y":-42.24},{"x":61.2,"y":-42.94},{"x":62.9,"y":-43.41},{"x":64.7,"y":-43.65},{"x":66.3,"y":-43.76},{"x":68.0,"y":-43.65},{"x":69.8,"y":-43.18},{"x":71.4,"y":-42.59},{"x":73.1,"y":-42.0},{"x":74.8,"y":-41.53},{"x":76.5,"y":-40.94},{"x":78.2,"y":-40.47},{"x":79.5,"y":-40.0},{"x":80.7,"y":-39.22},{"x":82.0,"y":-38.59},{"x":83.3,"y":-38.47},{"x":84.6,"y":-38.71},{"x":85.8,"y":-39.18},{"x":87.1,"y":-39.88},{"x":88.0,"y":-40.0},{"x":89.3,"y":-39.76},{"x":91.0,"y":-39.53},{"x":92.7,"y":-39.53},{"x":94.4,"y":-39.29},{"x":96.0,"y":-38.94},{"x":97.7,"y":-38.59},{"x":99.4,"y":-38.12},{"x":101.1,"y":-37.72},{"x":102.8,"y":-37.53},{"x":104.1,"y":-37.65},{"x":105.0,"y":-37.88}
 ],
 "ta": [
  {"x":1311,"y":-33.05,"t":"a","s":"k"},
  {"x":1827,"y":-35.0,"t":"GRIP","s":"b"},
  {"x":1966,"y":-35.0,"t":"isotopes vs. GRIP depth","s":"k"}
 ],
 "tb": [
  {"x":6.34,"y":-33.19,"t":"b","s":"k"},
  {"x":25.24,"y":-33.34,"t":"GRIP","s":"b"},
  {"x":32.64,"y":-33.34,"t":"and","s":"k"},
  {"x":37.65,"y":-33.34,"t":"NorthGRIP","s":"r"},
  {"x":52.6,"y":-33.34,"t":"isotopes vs. NorthGRIP depth","s":"k"}
 ],
 "tc": [
  {"x":5.76,"y":1.03,"t":"c","s":"k"},
  {"x":29.57,"y":0.68,"t":"δ¹⁸O NorthGRIP - GRIP","s":"k"},
  {"x":30.15,"y":-0.14,"t":"δ¹⁸O sea water","s":"g"},
  {"x":30.15,"y":-3.48,"t":"δ¹⁸O NorthGRIP 10 ka low pass","s":"r"}
 ],
 "lc": [
  {"x":25.24,"x2":29.33,"y":0.68,"s":"k"},
  {"x":25.24,"x2":29.33,"y":-0.14,"s":"g"},
  {"x":25.24,"x2":29.33,"y":-3.48,"s":"r"}
 ]
},
"vconcat": [
 {
  "width": 898, "height": 171,
  "resolve": {"scale": {"y": "independent"}, "axis": {"x": "independent"}},
  "layer": [
   {
    "data": {"name": "a"},
    "mark": {"type": "line", "color": "#1e3cff", "strokeWidth": 1.3},
    "encoding": {
     "x": {"field": "x", "type": "quantitative", "scale": {"domain": [1200, 3082], "nice": false, "zero": false},
      "axis": {"orient": "top", "title": "Depth [m]", "values": [1500,2000,2500,3000], "labelExpr": "'' + datum.value", "labelOverlap": false, "tickSize": -9, "labelPadding": 15, "titlePadding": 17}},
     "y": {"field": "y", "type": "quantitative", "scale": {"domain": [-44, -31], "nice": false, "zero": false},
      "axis": {"orient": "left", "values": [-44,-42,-40,-38,-36,-34,-32], "labelExpr": "datum.value % 4 === 0 ? '' + datum.value : ''", "labelOverlap": false, "tickSize": -7, "labelPadding": 10, "title": "δ¹⁸O [‰]", "titleColor": "#1e3cff", "titlePadding": 8}}
    }
   },
   {
    "data": {"name": "ta"},
    "mark": {"type": "text", "align": "left", "baseline": "alphabetic", "fontSize": 24},
    "encoding": {
     "x": {"field": "x", "type": "quantitative", "scale": {"domain": [1200, 3082], "nice": false, "zero": false},
      "axis": {"orient": "top", "title": null, "values": [1300,1400,1600,1700,1800,1900,2100,2200,2300,2400,2600,2700,2800,2900], "labels": false, "domain": false, "tickSize": -6}},
     "y": {"field": "y", "type": "quantitative", "scale": {"domain": [-44, -31], "nice": false, "zero": false},
      "axis": {"orient": "right", "values": [-44,-42,-40,-38,-36,-34,-32], "labelExpr": "datum.value % 4 === 0 ? '' + datum.value : ''", "labelOverlap": false, "tickSize": -7, "labelPadding": 7, "title": "δ¹⁸O [‰]", "titleColor": "#1e3cff", "titlePadding": 10}},
     "text": {"field": "t"},
     "color": {"field": "s", "type": "nominal", "scale": {"domain": ["k", "b", "r", "g"], "range": ["#000000", "#1e3cff", "#ff1414", "#22c022"]}, "legend": null}
    }
   }
  ]
 },
 {
  "width": 898, "height": 170,
  "resolve": {"scale": {"y": "independent"}},
  "layer": [
   {
    "data": {"name": "bg"},
    "mark": {"type": "line", "color": "#1e3cff", "strokeWidth": 1.3},
    "encoding": {
     "x": {"field": "x", "type": "quantitative", "scale": {"domain": [0, 105], "nice": false, "zero": false},
      "axis": {"orient": "bottom", "ticks": false, "labels": false, "title": null}},
     "y": {"field": "y", "type": "quantitative", "scale": {"domain": [-44.9, -32], "nice": false, "zero": false},
      "axis": {"orient": "left", "values": [-44,-42,-40,-38,-36,-34,-32], "labelExpr": "datum.value % 4 === 0 ? '' + datum.value : ''", "labelOverlap": false, "tickSize": -7, "labelPadding": 10, "title": "δ¹⁸O [‰]", "titleColor": "#1e3cff", "titlePadding": 8}}
    }
   },
   {
    "data": {"name": "bn"},
    "mark": {"type": "line", "color": "#ff1414", "strokeWidth": 1.3},
    "encoding": {
     "x": {"field": "x", "type": "quantitative", "scale": {"domain": [0, 105], "nice": false, "zero": false}},
     "y": {"field": "y", "type": "quantitative", "scale": {"domain": [-44.9, -32], "nice": false, "zero": false},
      "axis": {"orient": "right", "values": [-44,-42,-40,-38,-36,-34,-32], "labelExpr": "datum.value % 4 === 0 ? '' + datum.value : ''", "labelOverlap": false, "tickSize": -7, "labelPadding": 7, "title": "δ¹⁸O [‰]", "titleColor": "#ff1414", "titlePadding": 10}}
    }
   },
   {
    "data": {"name": "tb"},
    "mark": {"type": "text", "align": "left", "baseline": "alphabetic", "fontSize": 23},
    "encoding": {
     "x": {"field": "x", "type": "quantitative", "scale": {"domain": [0, 105], "nice": false, "zero": false}},
     "y": {"field": "y", "type": "quantitative", "scale": {"domain": [-44.9, -32], "nice": false, "zero": false}, "axis": null},
     "text": {"field": "t"},
     "color": {"field": "s", "type": "nominal", "scale": {"domain": ["k", "b", "r", "g"], "range": ["#000000", "#1e3cff", "#ff1414", "#22c022"]}, "legend": null}
    }
   }
  ]
 },
 {
  "width": 898, "height": 171,
  "resolve": {"scale": {"y": "independent"}, "axis": {"x": "independent"}},
  "layer": [
   {
    "data": {"name": "cd"},
    "mark": {"type": "line", "color": "#000000", "strokeWidth": 1},
    "encoding": {
     "x": {"field": "x", "type": "quantitative", "scale": {"domain": [0, 105], "nice": false, "zero": false},
      "axis": {"orient": "bottom", "values": [0,20,40,60,80,100], "labelExpr": "datum.value === 100 ? '100x10³' : '' + datum.value", "labelOverlap": false, "tickSize": -9, "labelPadding": 17, "title": "Age [yr  BP]", "titlePadding": 13}},
     "y": {"field": "y", "type": "quantitative", "scale": {"domain": [-4, 1], "nice": false, "zero": false},
      "axis": {"orient": "left", "values": [-4,-3,-2,-1,0,1], "labelExpr": "'' + datum.value", "labelOverlap": false, "tickSize": -7, "labelPadding": 10, "title": "δ¹⁸O [‰]", "titlePadding": 10}}
    }
   },
   {
    "data": {"name": "cs"},
    "mark": {"type": "line", "color": "#22c022", "strokeWidth": 2.5},
    "encoding": {
     "x": {"field": "x", "type": "quantitative", "scale": {"domain": [0, 105], "nice": false, "zero": false},
      "axis": {"orient": "bottom", "title": null, "values": [2,4,6,8,10,12,14,16,18,22,24,26,28,30,32,34,36,38,42,44,46,48,50,52,54,56,58,62,64,66,68,70,72,74,76,78,82,84,86,88,90,92,94,96,98,102,104], "labels": false, "domain": false, "tickSize": -5}},
     "y": {"field": "y", "type": "quantitative", "scale": {"domain": [0, 1.2], "reverse": true, "nice": false, "zero": false},
      "axis": {"orient": "right", "values": [0,0.2,0.4,0.6,0.8,1.0,1.2], "labelExpr": "indexof([0,0.4,0.8,1.2], datum.value) >= 0 ? format(datum.value, '.1f') : ''", "labelOverlap": false, "tickSize": -7, "labelPadding": 10, "title": "δ¹⁸O [‰]", "titleColor": "#1aa0a0", "titlePadding": 10}}
    }
   },
   {
    "data": {"name": "cr"},
    "mark": {"type": "line", "color": "#ff1414", "strokeWidth": 2.5},
    "encoding": {
     "x": {"field": "x", "type": "quantitative", "scale": {"domain": [0, 105], "nice": false, "zero": false}, "axis": null},
     "y": {"field": "y", "type": "quantitative", "scale": {"domain": [-46, -34], "nice": false, "zero": false},
      "axis": {"orient": "right", "offset": 79, "values": [-46,-44,-42,-40,-38,-36,-34], "labelExpr": "datum.value % 4 === 0 ? '' + datum.value : ''", "labelOverlap": false, "tickSize": -7, "labelPadding": 13, "title": "δ¹⁸O [‰]", "titleColor": "#ff1414", "titlePadding": 2, "titleFontSize": 17}}
    }
   },
   {
    "data": {"name": "lc"},
    "mark": {"type": "rule"},
    "encoding": {
     "x": {"field": "x", "type": "quantitative", "scale": {"domain": [0, 105], "nice": false, "zero": false}, "axis": null},
     "x2": {"field": "x2"},
     "y": {"field": "y", "type": "quantitative", "scale": {"domain": [-4, 1], "nice": false, "zero": false}, "axis": null},
     "color": {"field": "s", "type": "nominal", "scale": {"domain": ["k", "b", "r", "g"], "range": ["#000000", "#1e3cff", "#ff1414", "#22c022"]}, "legend": null},
     "strokeWidth": {"field": "s", "type": "nominal", "scale": {"domain": ["k", "r", "g"], "range": [1, 2.5, 2.5]}, "legend": null}
    }
   },
   {
    "data": {"name": "tc"},
    "mark": {"type": "text", "align": "left", "baseline": "middle", "fontSize": 20},
    "encoding": {
     "x": {"field": "x", "type": "quantitative", "scale": {"domain": [0, 105], "nice": false, "zero": false}, "axis": null},
     "y": {"field": "y", "type": "quantitative", "scale": {"domain": [-4, 1], "nice": false, "zero": false}, "axis": null},
     "text": {"field": "t"},
     "color": {"field": "s", "type": "nominal", "scale": {"domain": ["k", "b", "r", "g"], "range": ["#000000", "#1e3cff", "#ff1414", "#22c022"]}, "legend": null}
    }
   }
  ]
 }
]
}
